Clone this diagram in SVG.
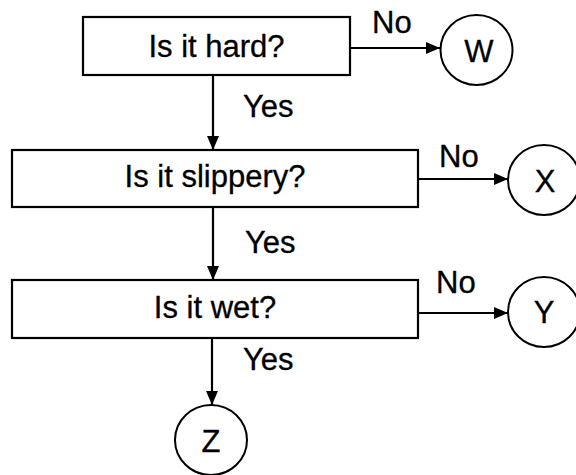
<svg xmlns="http://www.w3.org/2000/svg" width="576" height="475" viewBox="0 0 576 475">
<defs>
<style>
.box{fill:#fff;stroke:#000;stroke-width:2.2}
.circ{fill:#fff;stroke:#000;stroke-width:2}
.t{font-family:"Liberation Sans",Arial,sans-serif;font-size:31px;fill:#000;stroke:#000;stroke-width:0.3}
.c{text-anchor:middle}
.edge{stroke:#000;stroke-width:2.2;fill:none;marker-end:url(#ah)}
</style>
<marker id="ah" markerUnits="userSpaceOnUse" markerWidth="14" markerHeight="12" refX="14" refY="6" orient="auto">
<path d="M0,0 L14,6 L0,12 z" fill="#000"/>
</marker>
</defs>
<rect width="576" height="475" fill="#fff"/>
<g id="connectors">
<line class="edge" x1="350" y1="48" x2="440" y2="48"/>
<line class="edge" x1="213" y1="75" x2="213" y2="150"/>
<line class="edge" x1="418" y1="179" x2="508" y2="179"/>
<line class="edge" x1="213" y1="207" x2="213" y2="280"/>
<line class="edge" x1="418" y1="313" x2="508" y2="313"/>
<line class="edge" x1="212" y1="338" x2="212" y2="405"/>
<text class="t" x="372" y="33">No</text>
<text class="t" x="243" y="117">Yes</text>
<text class="t" x="439" y="167">No</text>
<text class="t" x="245" y="253">Yes</text>
<text class="t" x="436" y="293">No</text>
<text class="t" x="243" y="370">Yes</text>
</g>
<g id="hard">
<rect class="box" x="83" y="17" width="267" height="58"/>
<text class="t c" x="216.5" y="57">Is it hard?</text>
</g>
<g id="slippery">
<rect class="box" x="12" y="150" width="406" height="57"/>
<text class="t c" x="215" y="187">Is it slippery?</text>
</g>
<g id="wet">
<rect class="box" x="12" y="280" width="406" height="58"/>
<text class="t c" x="215" y="318">Is it wet?</text>
</g>
<g id="W">
<ellipse class="circ" cx="476.5" cy="50" rx="36" ry="35"/>
<text class="t c" x="479" y="62">W</text>
</g>
<g id="X">
<ellipse class="circ" cx="544" cy="180" rx="36" ry="35"/>
<text class="t c" x="545" y="192">X</text>
</g>
<g id="Y">
<ellipse class="circ" cx="544" cy="312" rx="36" ry="35"/>
<text class="t c" x="544" y="323">Y</text>
</g>
<g id="Z">
<ellipse class="circ" cx="211" cy="440" rx="36" ry="35"/>
<text class="t c" x="211" y="452">Z</text>
</g>
</svg>
